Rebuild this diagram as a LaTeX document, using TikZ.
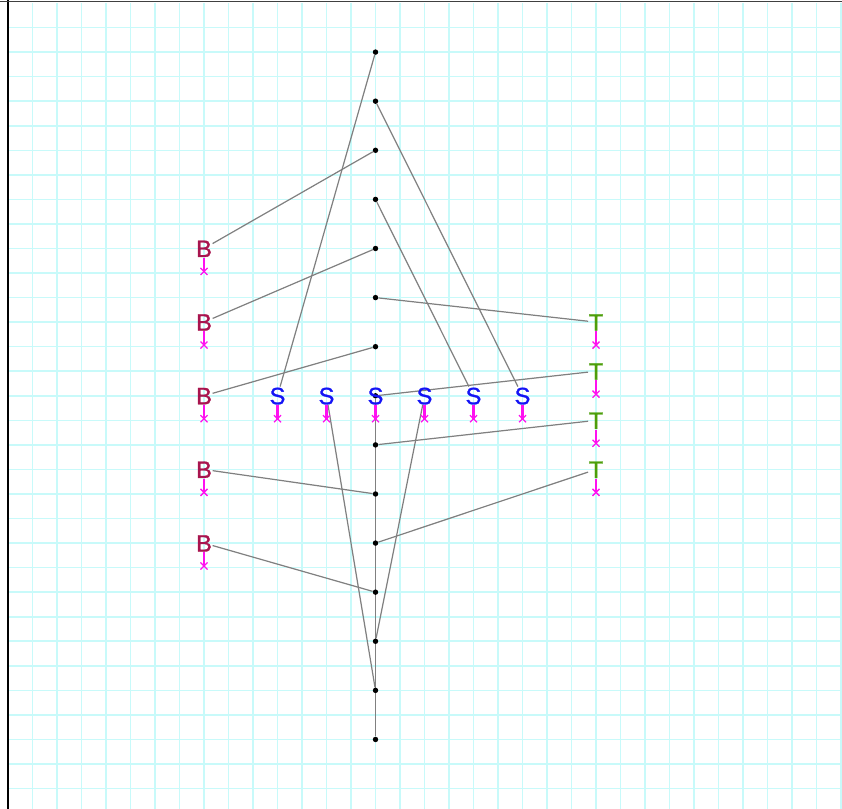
\documentclass[tikz,border=0pt]{standalone}
\usepackage{fontspec}
\setsansfont{Liberation Sans}
\newfontfamily\pinfont[FakeBold=1.2]{Liberation Sans}
\usepackage{tikz}
\usetikzlibrary{shapes.misc}
\definecolor{gridcyan}{HTML}{C8FAFA}
\definecolor{wiregray}{HTML}{808080}
\definecolor{bcrimson}{HTML}{A8144E}
\definecolor{sblue}{HTML}{1414F5}
\definecolor{tgreen}{HTML}{4C9E0A}
\definecolor{pinmag}{HTML}{FF10F0}
\pgfdeclarelayer{gridlayer}
\pgfdeclarelayer{wirelayer}
\pgfsetlayers{gridlayer,wirelayer,main}

\begin{document}
\begin{tikzpicture}[x=0.6cm,y=-0.6012cm,
  gridline/.style={gridcyan,line width=1.1pt},
  wire/.style={wiregray,line width=0.85pt},
  dot/.style={circle,fill=black,inner sep=0pt,minimum size=3.8pt},
  letter/.style={font=\pinfont\fontsize{16.5}{16.5}\selectfont,inner sep=0.3pt,
    text height=11.8pt,text depth=0pt},
  stem/.style={pinmag,line width=1.6pt},
  pinx/.style={cross out,draw=pinmag,line width=0.9pt,minimum size=4pt,inner sep=0pt}]
  \useasboundingbox (-0.3265,-0.122) rectangle (34.04,32.83);
  % grid and frame
  \begin{pgfonlayer}{gridlayer}
    \foreach \i in {1,...,34} \draw[gridline] (\i,0) -- (\i,32.83);
    \foreach \j in {1,...,32} \draw[gridline] (0,\j) -- (34.04,\j);
    \draw[black,line width=1.3pt] (0,-0.122) -- (0,32.83);
    \draw[black!75,line width=1pt] (-0.3265,-0.06) -- (34.04,-0.06);
  \end{pgfonlayer}
  % column of points
  \foreach \k in {1,...,15} \node[dot] (c\k) at (15,2*\k) {};
  % terminals
  \foreach \n/\y in {1/10,2/13,3/16,4/19,5/22} {
    \node[letter,text=bcrimson] (b\n) at (8,\y) {B};
    \draw[stem] (b\n.south) -- ++(0,0.56) node[pinx] (b\n-p) {};
  }
  \foreach \n/\x in {1/11,2/13,3/15,4/17,5/19,6/21} {
    \node[letter,text=sblue] (s\n) at (\x,16) {S};
    \draw[stem] (s\n.south) -- ++(0,0.56) node[pinx] (s\n-p) {};
  }
  \foreach \n/\y in {1/13,2/15,3/17,4/19} {
    \node[letter,text=tgreen] (t\n) at (24,\y) {T};
    \draw[stem] (t\n.south) -- ++(0,0.56) node[pinx] (t\n-p) {};
  }
  % wires
  \begin{pgfonlayer}{wirelayer}
    \draw[wire] (c1) -- (s1);
    \draw[wire] (c2) -- (s6);
    \draw[wire] (c3) -- (b1);
    \draw[wire] (c4) -- (s5);
    \draw[wire] (c5) -- (b2);
    \draw[wire] (c6) -- (t1);
    \draw[wire] (c7) -- (b3);
    \draw[wire] (c8) -- (t2);
    \draw[wire] (c8) -- (c15);
    \draw[wire] (c9) -- (t3);
    \draw[wire] (c10) -- (b4);
    \draw[wire] (c11) -- (t4);
    \draw[wire] (c12) -- (b5);
    \draw[wire] (s2) -- (c14);
    \draw[wire] (s4) -- (c13);
  \end{pgfonlayer}
\end{tikzpicture}
\end{document}
